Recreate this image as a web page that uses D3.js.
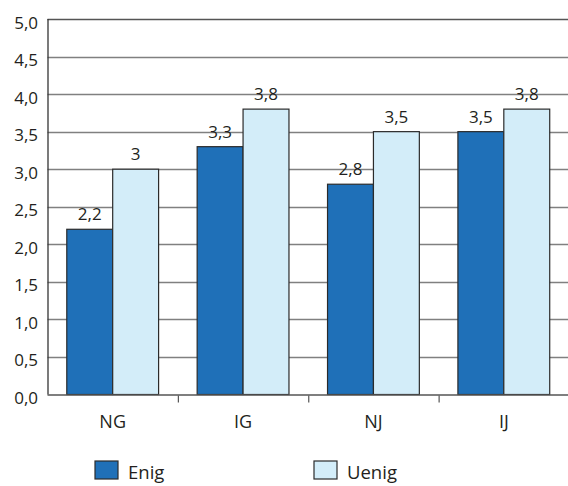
<!DOCTYPE html>
<html>
<head>
<meta charset="utf-8">
<script src="https://cdn.jsdelivr.net/npm/d3@7"></script>
<style>
  html, body { margin: 0; padding: 0; background: #fff; }
  svg text { font-family: "Open Sans", "Noto Sans", sans-serif; fill: #231f20; }
</style>
</head>
<body>
<svg id="chart" width="568" height="486"></svg>
<script>
// Categories, series and tick values
const categories = ["NG", "IG", "NJ", "IJ"];
const seriesNames = ["Enig", "Uenig"];
const enig = [2.2, 3.3, 2.8, 3.5];
const uenig = [3.0, 3.8, 3.5, 3.8];
const enigLabels = ["2,2", "3,3", "2,8", "3,5"];
const uenigLabels = ["3", "3,8", "3,5", "3,8"];
const yTicks = [0, 0.5, 1, 1.5, 2, 2.5, 3, 3.5, 4, 4.5, 5];

const colors = { Enig: "#1f70b8", Uenig: "#d3edf9" };

const svg = d3.select("#chart");
const margin = { left: 47.5, right: -1, top: 19, bottom: 91.5 };
const W = 568, H = 486;
const x0 = margin.left, x1 = W - margin.right;
const yTop = margin.top, yBot = H - margin.bottom;

const x = d3.scaleBand().domain(categories).range([x0, x1]).paddingInner(0).paddingOuter(0);
const xs = d3.scaleBand().domain(seriesNames).range([0, x.bandwidth()]).paddingInner(0).paddingOuter(0.42);
const y = d3.scaleLinear().domain([0, 5]).range([yBot, yTop]);

const fmt = v => d3.format(".1f")(v).replace(".", ",");

// Horizontal gridlines
svg.append("g").selectAll("line").data(yTicks.filter(t => t > 0)).join("line")
  .attr("x1", x0).attr("x2", x1)
  .attr("y1", d => Math.round(y(d)) + 0.5).attr("y2", d => Math.round(y(d)) + 0.5)
  .attr("stroke", d => d === 5 ? "#555" : "#808080").attr("stroke-width", 1.3);

// Y axis tick labels
svg.append("g").selectAll("text").data(yTicks).join("text")
  .attr("x", 38).attr("y", d => y(d) + 3)
  .attr("text-anchor", "end").attr("dominant-baseline", "central")
  .attr("font-size", 17)
  .text(fmt);

// Bars
const rows = categories.map((c, i) => ({ c, vals: [
  { s: "Enig", v: enig[i], lab: enigLabels[i] },
  { s: "Uenig", v: uenig[i], lab: uenigLabels[i] }
]}));

const groups = svg.append("g").selectAll("g").data(rows).join("g")
  .attr("transform", d => `translate(${x(d.c)},0)`);

groups.selectAll("rect").data(d => d.vals).join("rect")
  .attr("x", d => xs(d.s)).attr("width", xs.bandwidth())
  .attr("y", d => y(d.v)).attr("height", d => y(0) - y(d.v))
  .attr("fill", d => colors[d.s]).attr("stroke", "#2b2b2b").attr("stroke-width", 1.2);

groups.selectAll("text").data(d => d.vals).join("text")
  .attr("x", d => xs(d.s) + xs.bandwidth() / 2)
  .attr("y", d => y(d.v) - 9)
  .attr("text-anchor", "middle").attr("font-size", 17)
  .text(d => d.lab);

// Y axis line and baseline
svg.append("line").attr("x1", x0 + 0.5).attr("x2", x0 + 0.5).attr("y1", yTop).attr("y2", yBot)
  .attr("stroke", "#333").attr("stroke-width", 1.3);
svg.append("line").attr("x1", x0).attr("x2", x1).attr("y1", yBot + 0.5).attr("y2", yBot + 0.5)
  .attr("stroke", "#555").attr("stroke-width", 1.6);

// X axis: ticks between categories and labels
svg.append("g").selectAll("line").data(categories.slice(1)).join("line")
  .attr("x1", d => x(d) + 0.5).attr("x2", d => x(d) + 0.5)
  .attr("y1", yBot + 1).attr("y2", yBot + 8)
  .attr("stroke", "#555").attr("stroke-width", 1.2);

svg.append("g").selectAll("text").data(categories).join("text")
  .attr("x", d => x(d) + xs(seriesNames[0]) + xs.bandwidth())
  .attr("y", 428)
  .attr("text-anchor", "middle").attr("font-size", 18)
  .text(d => d);

// Legend
const legendX = [95, 314];
const legend = svg.append("g").selectAll("g").data(seriesNames).join("g")
  .attr("transform", (d, i) => `translate(${legendX[i]},461)`);
legend.append("rect").attr("width", 23).attr("height", 18)
  .attr("fill", d => colors[d]).attr("stroke", "#2b2b2b").attr("stroke-width", 1.2);
legend.append("text").attr("x", 33).attr("y", 18)
  .attr("font-size", 18.5).text(d => d);
</script>
</body>
</html>
